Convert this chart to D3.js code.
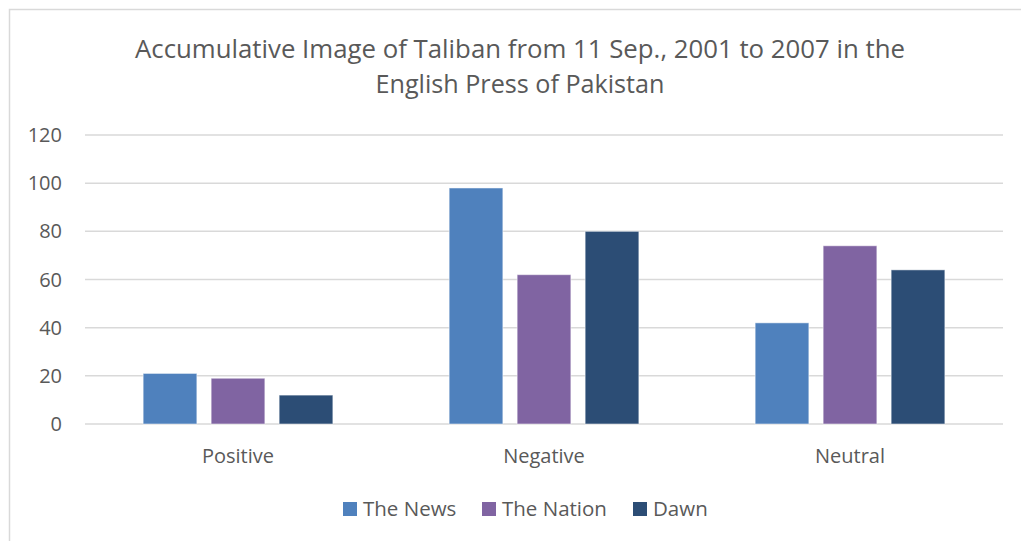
<!DOCTYPE html>
<meta charset="utf-8">
<script src="https://d3js.org/d3.v7.min.js"></script>
<style>
  body { margin: 0; background: #fff; }
  text { font-family: "Open Sans", sans-serif; fill: #595959; }
</style>
<body>
<div id="chart"></div>
<script>
// data
var categories = ["Positive", "Negative", "Neutral"]
var series = ["The News", "The Nation", "Dawn"]
var theNews = [21, 98, 42]
var theNation = [19, 62, 74]
var dawn = [12, 80, 64]
var yTicks = [0, 20, 40, 60, 80, 100, 120]
var colors = ["#4f81bd", "#8064a2", "#2c4d75"]

var values = [theNews, theNation, dawn]

const w = 1021, h = 541
var svg = d3.select("#chart").append("svg")
  .attr("width", w).attr("height", h)

// chart frame
svg.append("rect")
  .attr("x", 9.5).attr("y", 9.5)
  .attr("width", 1100).attr("height", 600)
  .attr("fill", "none").attr("stroke", "#d9d9d9").attr("stroke-width", 1.5)

var plotLeft = 85, plotRight = 1003, plotTop = 135, plotBottom = 424

var y = d3.scaleLinear().domain([0, 120]).range([plotBottom, plotTop])
var x0 = d3.scaleBand().domain(categories).range([plotLeft, plotRight])
  .paddingInner(0.38).paddingOuter(0.19)
var x1 = d3.scaleBand().domain(series).range([0, x0.bandwidth()])
  .paddingInner(0.21)

// gridlines
svg.append("g").selectAll("line")
  .data(yTicks)
  .enter().append("line")
    .attr("x1", plotLeft).attr("x2", plotRight)
    .attr("y1", function (d) { return y(d) }).attr("y2", function (d) { return y(d) })
    .attr("stroke", "#d9d9d9").attr("stroke-width", 1.5)

// y labels
svg.append("g").selectAll("text")
  .data(yTicks)
  .enter().append("text")
    .attr("x", 62).attr("y", function (d) { return y(d) })
    .attr("dy", "0.35em")
    .attr("text-anchor", "end")
    .attr("font-size", 20)
    .text(function (d) { return d })

// bars
var groups = svg.append("g").selectAll("g")
  .data(categories)
  .enter().append("g")
    .attr("transform", function (d) { return "translate(" + x0(d) + ",0)" })

groups.selectAll("rect")
  .data(function (c, ci) {
    return series.map(function (s, si) { return { s: s, si: si, v: values[si][ci] } })
  })
  .enter().append("rect")
    .attr("x", function (d) { return x1(d.s) })
    .attr("width", x1.bandwidth())
    .attr("y", function (d) { return y(d.v) })
    .attr("height", function (d) { return y(0) - y(d.v) })
    .attr("fill", function (d) { return colors[d.si] })
    .attr("stroke", "#ffffff").attr("stroke-opacity", 0.5).attr("stroke-width", 1)

// category labels
svg.append("g").selectAll("text")
  .data(categories)
  .enter().append("text")
    .attr("x", function (d) { return x0(d) + x0.bandwidth() / 2 })
    .attr("y", 463)
    .attr("text-anchor", "middle")
    .attr("font-size", 20)
    .text(function (d) { return d })

// title
var title = svg.append("text")
  .attr("text-anchor", "middle")
  .attr("font-size", 25)
title.append("tspan").attr("x", 520).attr("y", 58)
  .attr("textLength", 770).attr("lengthAdjust", "spacingAndGlyphs")
  .text("Accumulative Image of Taliban from 11 Sep., 2001 to 2007 in the")
title.append("tspan").attr("x", 520).attr("y", 93)
  .attr("textLength", 289).attr("lengthAdjust", "spacingAndGlyphs")
  .text("English Press of Pakistan")

// legend
var legendX = [343, 482, 633]
var legend = svg.append("g").selectAll("g")
  .data(series)
  .enter().append("g")
    .attr("transform", function (d, i) { return "translate(" + legendX[i] + ",502)" })
legend.append("rect")
  .attr("width", 14).attr("height", 14)
  .attr("fill", function (d, i) { return colors[i] })
legend.append("text")
  .attr("x", 20).attr("y", 14)
  .attr("font-size", 20.5)
  .text(function (d) { return d })
</script>
</body>
